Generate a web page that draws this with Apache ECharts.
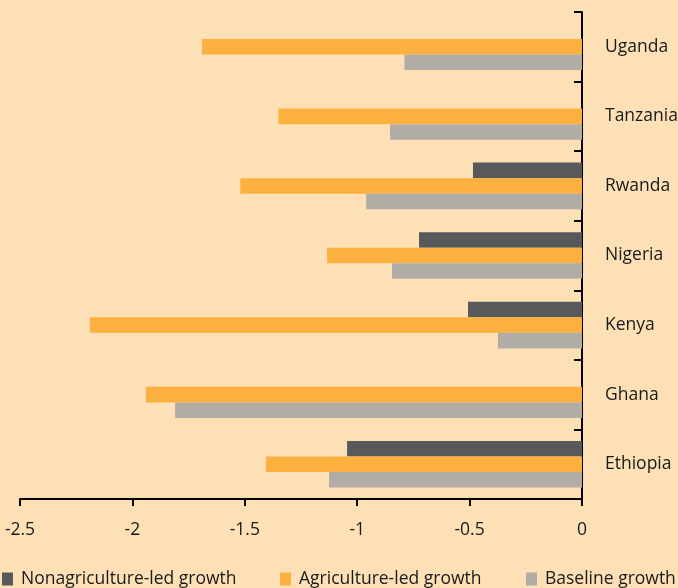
<!DOCTYPE html>
<html>
<head>
<meta charset="utf-8">
<script src="https://cdn.jsdelivr.net/npm/echarts@6/dist/echarts.min.js"></script>
<style>
html,body{margin:0;padding:0;background:#FEE0B6;}
#chart{width:678px;height:588px;}
</style>
</head>
<body>
<div id="chart"></div>
<script>
const countries = ['Ethiopia','Ghana','Kenya','Nigeria','Rwanda','Tanzania','Uganda'];
const nonagricultureLed = [-1.045, null, -0.507, -0.725, -0.485, null, null];
const agricultureLed = [-1.406, -1.94, -2.19, -1.134, -1.52, -1.35, -1.69];
const baseline = [-1.125, -1.81, -0.374, -0.845, -0.96, -0.854, -0.79];
const xTicks = [-2.5, -2, -1.5, -1, -0.5, 0];

const FONT = 'Open Sans';
const FS = 17.5;
const TXT = '#1A1A1A';
const chart = echarts.init(document.getElementById('chart'));
const legendBase = {
  bottom: 0, itemWidth: 11, itemHeight: 13, itemGap: 6,
  icon: 'rect', padding: 0,
  textStyle: {fontFamily: FONT, fontSize: FS, color: TXT, padding: [0, 0, 0, 3]}
};
chart.setOption({
  backgroundColor: '#FEE0B6',
  animation: false,
  legend: [
    Object.assign({}, legendBase, {left: 2, data: ['Nonagriculture-led growth']}),
    Object.assign({}, legendBase, {left: 280, data: ['Agriculture-led growth']}),
    Object.assign({}, legendBase, {left: 526, data: ['Baseline growth']})
  ],
  grid: {left: 20, right: 96, top: 12, bottom: 89, containLabel: false, outerBoundsMode: 'none'},
  xAxis: {
    type: 'value', min: -2.5, max: 0, interval: 0.5,
    splitLine: {show: false},
    axisLine: {show: true, onZero: false, lineStyle: {color: '#000', width: 2}},
    axisTick: {show: true, inside: false, length: 7, lineStyle: {color: '#000', width: 2}},
    axisLabel: {margin: 22, fontFamily: FONT, fontSize: FS, color: TXT,
      formatter: v => xTicks.includes(v) ? String(v) : ''}
  },
  yAxis: {
    type: 'category', data: countries, position: 'right',
    axisLine: {show: true, lineStyle: {color: '#000', width: 2}},
    axisTick: {show: true, inside: true, length: 8, lineStyle: {color: '#000', width: 2}},
    axisLabel: {margin: 23, align: 'left', fontFamily: FONT, fontSize: FS, color: TXT}
  },
  series: [
    {name: 'Nonagriculture-led growth', type: 'bar', data: nonagricultureLed, itemStyle: {color: '#58595B'}, barGap: '0%', barCategoryGap: '33%'},
    {name: 'Agriculture-led growth', type: 'bar', data: agricultureLed, itemStyle: {color: '#FBB040'}, barGap: '0%', barCategoryGap: '33%'},
    {name: 'Baseline growth', type: 'bar', data: baseline, itemStyle: {color: '#B1ADA6'}, barGap: '0%', barCategoryGap: '33%'}
  ]
});
</script>
</body>
</html>
